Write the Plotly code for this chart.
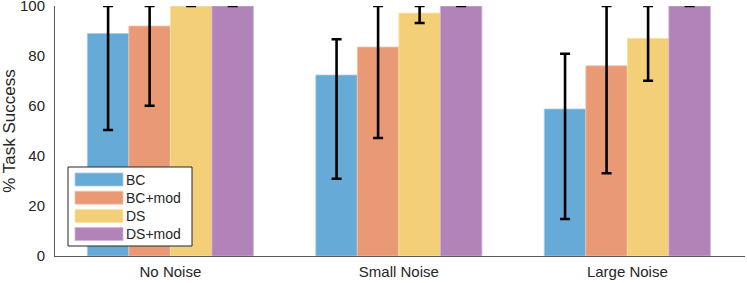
import plotly.graph_objects as go

categories = ["No Noise", "Small Noise", "Large Noise"]
series = ["BC", "BC+mod", "DS", "DS+mod"]
colors = ["#66aad7", "#e99a75", "#f3d078", "#b283b9"]
edge_colors = ["#a9cdea", "#f3c3ad", "#f8e3aa", "#d2b3d6"]
ytick_vals = [0, 20, 40, 60, 80, 100]

# mean success per series, per category
values = {
    "BC":     [89.0, 72.4, 58.8],
    "BC+mod": [92.0, 83.6, 76.1],
    "DS":     [100.0, 97.2, 87.1],
    "DS+mod": [100.0, 100.0, 100.0],
}
err_upper = {
    "BC":     [100.0, 86.7, 80.9],
    "BC+mod": [100.0, 100.0, 100.0],
    "DS":     [100.0, 100.0, 100.0],
    "DS+mod": [100.0, 100.0, 100.0],
}
err_lower = {
    "BC":     [50.4, 30.9, 14.8],
    "BC+mod": [60.1, 47.2, 33.1],
    "DS":     [100.0, 93.2, 70.1],
    "DS+mod": [100.0, 100.0, 100.0],
}

xpos = list(range(len(categories)))

W, H = 747, 283
ML, MR, MT, MB = 55, 2, 6, 27
PW, PH = W - ML - MR, H - MT - MB

def px_x(p):
    return (p - ML) / PW

def px_y(p):
    return (H - MB - p) / PH

fig = go.Figure()
for s, c, ec in zip(series, colors, edge_colors):
    v = values[s]
    up = [u - a for u, a in zip(err_upper[s], v)]
    dn = [a - l for a, l in zip(v, err_lower[s])]
    fig.add_trace(go.Bar(
        x=xpos, y=v, name=s, showlegend=False,
        marker=dict(color=c, line=dict(color=ec, width=0.8)),
        error_y=dict(type="data", symmetric=False, array=up, arrayminus=dn,
                     color="black", thickness=2.6, width=5),
    ))

# legend box drawn from the series list
shapes = [dict(type="rect", xref="paper", yref="paper",
               x0=px_x(68), x1=px_x(192), y0=px_y(246), y1=px_y(167),
               line=dict(color="#262626", width=1), fillcolor="white", layer="above")]
annotations = []
for i, (s, c, ec) in enumerate(zip(series, colors, edge_colors)):
    top = 173 + i * 18.2
    shapes.append(dict(type="rect", xref="paper", yref="paper",
                       x0=px_x(75), x1=px_x(123), y0=px_y(top + 13), y1=px_y(top),
                       line=dict(color=ec, width=0.8), fillcolor=c, layer="above"))
    annotations.append(dict(xref="paper", yref="paper", x=px_x(124), y=px_y(top + 6.5),
                            text=s, showarrow=False, xanchor="left", yanchor="middle",
                            font=dict(size=14, color="#262626")))

fig.update_layout(
    width=W, height=H,
    margin=dict(l=ML, r=MR, t=MT, b=MB),
    paper_bgcolor="white", plot_bgcolor="white",
    barmode="group", bargap=0.273, bargroupgap=0,
    font=dict(family="Liberation Sans, Arial, sans-serif", size=15, color="#262626"),
    showlegend=False,
    shapes=shapes, annotations=annotations,
    xaxis=dict(range=[-0.505, 2.515], tickmode="array", tickvals=xpos,
               ticktext=categories, showgrid=False, zeroline=False,
               showline=True, linecolor="#5a5a5a", linewidth=1, ticks="",
               ticklabelstandoff=2, automargin=False, ticklabeloverflow="allow"),
    yaxis=dict(range=[0, 100], tickvals=ytick_vals, showgrid=False,
               zeroline=False, showline=True, linecolor="#5a5a5a", linewidth=1,
               ticks="", ticklabelstandoff=6, automargin=False,
               ticklabeloverflow="allow",
               tickfont=dict(size=15),
               title=dict(text="% Task Success", standoff=0, font=dict(size=17))),
)

fig.write_html("out.html", post_script="document.body.style.margin='0';",
               config={"displayModeBar": False})
